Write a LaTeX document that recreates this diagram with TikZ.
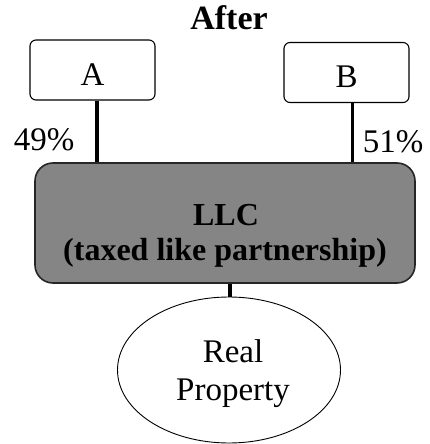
\documentclass[tikz,border=0pt]{standalone}
\usepackage{fontspec}
\setmainfont{Liberation Serif}
\usetikzlibrary{shapes.geometric}
\tikzset{
  every node/.style={font=\fontsize{33}{38}\selectfont},
  owner/.style={draw, line width=1.1pt, rounded corners=6pt, minimum width=125pt, minimum height=60pt, inner sep=0pt, text height=30pt, text depth=0pt},
  entity/.style={draw=black!85, line width=1.6pt, fill=black!48, rounded corners=18pt, minimum width=380pt, minimum height=120pt, inner sep=0pt},
  asset/.style={draw, line width=0.9pt, ellipse, minimum width=223pt, minimum height=146pt, inner sep=0pt},
  conn/.style={line width=3.2pt},
  txt/.style={anchor=base, inner sep=0pt},
  llctxt/.style={txt, font=\fontsize{32}{36}\selectfont\bfseries},
}
\begin{document}
\begin{tikzpicture}[x=1pt, y=-1pt]
  \useasboundingbox (0,0) rectangle (430,444);
  % title
  \node[txt, font=\fontsize{34}{38}\selectfont\bfseries] (title) at (229,30) {After};
  % owners
  \node[owner] (A) at (92.5,70) {A};
  \node[owner] (B) at (346.5,72.5) {B};
  % the LLC
  \node[entity] (LLC) at (225,223) {};
  \node[llctxt] (llc1) at (226,225) {LLC};
  \node[llctxt] (llc2) at (225,260) {(taxed like partnership)};
  % the property it holds
  \node[asset] (RP) at (229,370) {};
  \node[txt] (rp1) at (233,362) {Real};
  \node[txt] (rp2) at (233,400) {Property};
  % ownership lines
  \draw[conn] ([xshift=4.5pt]A.south) -- ([xshift=4.5pt]A.south |- LLC.north);
  \draw[conn] ([xshift=6pt]B.south) -- ([xshift=6pt]B.south |- LLC.north);
  \draw[conn] ([xshift=5pt]LLC.south) -- ([xshift=5pt]LLC.south |- RP.north);
  % percentages
  \node[txt] (p49) at (44,150) {49\%};
  \node[txt] (p51) at (393,152) {51\%};
\end{tikzpicture}
\end{document}
